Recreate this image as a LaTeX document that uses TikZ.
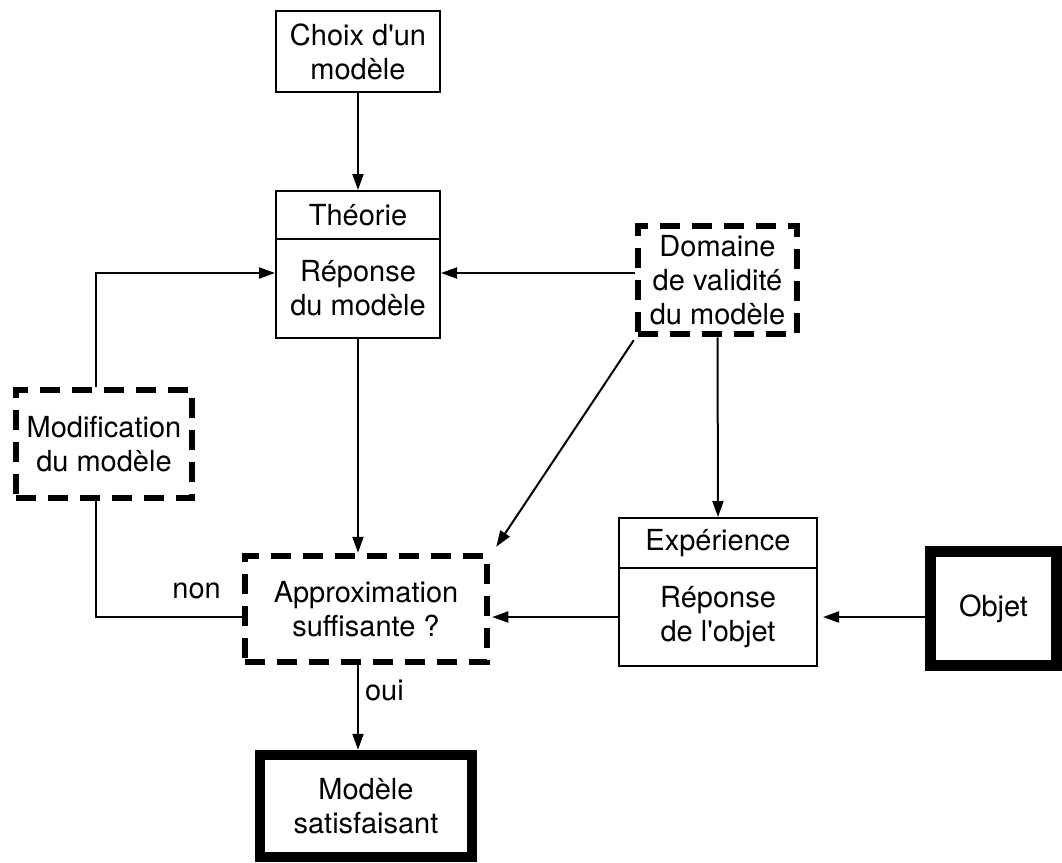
\documentclass[tikz,border=0pt]{standalone}
\usepackage{fontspec}
\setmainfont{TeX Gyre Heros}
\usetikzlibrary{arrows.meta}
\tikzset{
  every node/.style={font=\fontsize{29}{34}\selectfont, align=center, inner sep=0pt},
  plainbox/.style={draw, line width=2pt, rectangle},
  dashbox/.style={draw, line width=6.5pt, rectangle, dash pattern=on 20pt off 12pt},
  thickbox/.style={draw, line width=10.5pt, rectangle},
  conn/.style={line width=2pt},
  arr/.style={conn, -{Triangle[length=16pt,width=11pt]}},
}
\begin{document}
\begin{tikzpicture}[x=1pt,y=-1pt]
\useasboundingbox (0,0) rectangle (1062,862);
% boxes
\node[plainbox, minimum width=164pt, minimum height=81pt] (choix) at (358,51.5) {Choix d\textquotesingle un\\modèle};
\node[plainbox, minimum width=164pt, minimum height=48pt] (theoT) at (358,215) {Théorie};
\node[plainbox, minimum width=164pt, minimum height=99pt] (theoB) at (358,288.5) {Réponse\\du modèle};
\node[dashbox, minimum width=159pt, minimum height=108pt] (domaine) at (717.5,280) {Domaine\\de validité\\du modèle};
\node[dashbox, minimum width=176pt, minimum height=108pt] (modif) at (104,444) {Modification\\du modèle};
\node[dashbox, minimum width=242pt, minimum height=106pt] (approx) at (366,609) {Approximation\\suffisante ?};
\node[plainbox, minimum width=198pt, minimum height=50pt] (expT) at (718,543) {Expérience};
\node[plainbox, minimum width=198pt, minimum height=98pt] (expB) at (718,617) {Réponse\\de l\textquotesingle objet};
\node[thickbox, minimum width=126pt, minimum height=114pt] (objet) at (993.5,608.5) {Objet};
\node[thickbox, minimum width=212pt, minimum height=102pt] (modele) at (366,806) {Modèle\\satisfaisant};
% connectors
\draw[arr] (choix.south) -- (theoT.north);
\draw[arr] ([xshift=-8pt]modif.north) |- ([yshift=15.5pt]theoB.west);
\draw[arr] ([yshift=7pt]domaine.west) -- ([yshift=7pt]domaine.west -| theoB.east);
\draw[arr] ([xshift=-1pt,yshift=-3pt]domaine.south west) -- ([xshift=6pt,yshift=6pt]approx.north east);
\draw[arr] (domaine.south) -- (expT.north);
\draw[arr] (theoB.south) -- (theoB.south |- approx.north);
\draw[arr, shorten >=2pt] (expB.west) -- (expB.west -| approx.east);
\draw[arr, shorten >=5pt] ([yshift=-8.5pt]objet.west) -- ([yshift=-8.5pt]objet.west -| expB.east);
\draw[conn] ([xshift=-8pt]modif.south) |- (expB.west -| approx.west) node[pos=1, anchor=south east, xshift=-20pt, yshift=17pt] {non};
\draw[arr] ([xshift=-8pt]approx.south) -- ([xshift=-8pt]approx.south |- modele.north) node[pos=0.3, right=6pt] {oui};
\end{tikzpicture}
\end{document}
